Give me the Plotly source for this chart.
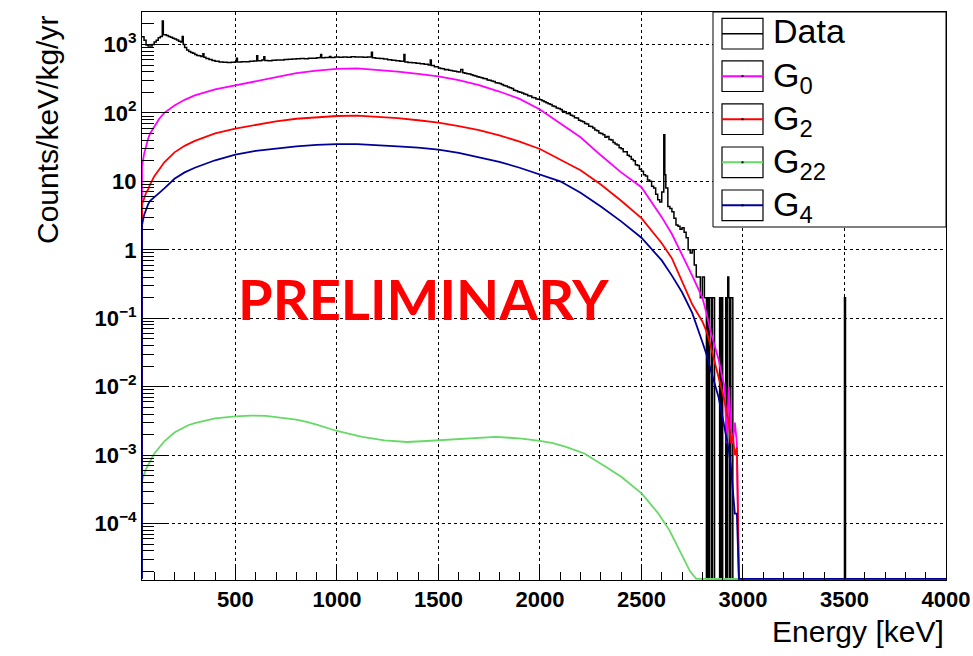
import math
import plotly.graph_objects as go

# ---------------- data ----------------
# Measured spectrum: left bin edges [keV] and contents [counts/keV/kg/yr]
DATA_E = [40, 50, 60, 70, 80, 90, 100, 110, 120, 130, 140, 145, 160, 170, 180, 190, 200, 210, 220, 230,
          238, 243, 250, 260, 270, 280, 290, 300, 310, 320, 330, 340, 345, 355, 370, 385, 400, 420, 440, 460,
          480, 500, 505, 510, 530, 550, 570, 590, 605, 610, 630, 640, 645,
          660, 680, 700, 720, 740, 760, 780, 800, 820, 840, 860, 880, 900, 915, 920, 925, 940, 960, 965, 970,
          990, 1010, 1030, 1050, 1070, 1090, 1110, 1130, 1150, 1170, 1175, 1190, 1210, 1230, 1250, 1270,
          1290, 1310, 1330, 1335, 1350, 1370, 1390, 1410, 1430, 1450, 1460, 1465, 1480,
          1500, 1510, 1520, 1530, 1540, 1550, 1560, 1570, 1580, 1590,
          1600, 1610, 1620, 1630, 1640, 1650, 1660, 1670, 1680, 1690,
          1700, 1710, 1720, 1730, 1740, 1750, 1760, 1770, 1780, 1790,
          1800, 1810, 1820, 1830, 1840, 1850, 1860, 1870, 1880, 1890,
          1900, 1910, 1920, 1930, 1940, 1950, 1960, 1970, 1980, 1990,
          2000, 2010, 2020, 2030, 2040, 2050, 2060, 2070, 2080, 2090,
          2100, 2110, 2120, 2130, 2140, 2150, 2160, 2170, 2180, 2190,
          2200, 2210, 2220, 2230, 2240, 2250, 2260, 2270, 2280, 2290,
          2300, 2310, 2320, 2330, 2340, 2350, 2360, 2370, 2380, 2390,
          2400, 2410, 2420, 2430, 2440, 2450, 2460, 2470, 2480, 2490,
          2500, 2510, 2520, 2530, 2540, 2550, 2560, 2570, 2580, 2590,
          2600, 2610, 2615, 2620, 2630, 2640, 2650, 2660, 2670, 2680, 2690,
          2700, 2710, 2720, 2730, 2740, 2750, 2760, 2770, 2780, 2790, 2800, 2810, 2820, 2825,
          2830, 2835, 2845, 2850, 2860, 2885, 2890, 2895, 2900, 2915, 2920, 2925, 2930, 2935, 2940, 2950, 3500,
          3505, 4000]
DATA_V = [1290, 1150, 980, 950, 950, 1000, 1080, 1150, 1250, 1300, 2200, 1380, 1350, 1300, 1270, 1230, 1200, 1160, 1110, 1080,
          1300, 1000, 900, 830, 790, 760, 740, 710, 690, 680, 665, 730, 650, 620, 600, 580, 565, 555, 548, 545,
          548, 560, 630, 555, 556, 560, 565, 570, 680, 575, 590, 660, 580,
          575, 588, 592, 590, 600, 606, 612, 615, 622, 618, 630, 628, 636, 642, 710, 640, 646, 650, 668, 644,
          652, 648, 655, 650, 658, 652, 656, 650, 652, 770, 640, 628, 620, 612, 596, 588,
          578, 566, 710, 552, 545, 538, 530, 520, 512, 500, 590, 492, 472,
          452, 445, 440, 428, 430, 420, 414, 408, 404, 398,
          395, 430, 385, 378, 372, 368, 360, 352, 346, 336,
          330, 326, 318, 314, 302, 300, 292, 286, 276, 272,
          268, 260, 250, 246, 238, 232, 226, 214, 210, 204,
          200, 195, 188, 186, 178, 176, 168, 166, 160, 158,
          156, 150, 145, 140, 136, 132, 126, 124, 118, 116,
          112, 106, 104, 98, 97, 92, 90, 85, 84, 78,
          76, 74, 70, 69, 64, 63, 60, 56, 55, 51,
          50, 48, 44, 45, 41, 40, 37, 35, 34, 31,
          30, 27, 27, 24, 23, 21, 20, 17.5, 17, 15,
          14, 12.5, 12, 10.5, 10, 8.5, 8, 6.5, 5.4, 5.0,
          7, 48, 12.5, 8, 4.3, 4.0, 3.6, 2.9, 2.3, 2.2, 2.0,
          2.1, 1.8, 1.5, 1.0, 0.9, 1.0, 0.6, 0.4, 0.4, 0.2, 0.4, 0.2, 0, 0.2,
          0, 0.2, 0, 0.2, 0, 0.2, 0, 0.2, 0, 0.2, 0, 0.4, 0.2, 0, 0.2, 0, 0.2,
          0, 0]

# Fit components G0, G2, G4 sampled at these energies [keV]
MODEL_E = [40, 50, 60, 70, 80, 100, 125, 150, 200, 250, 300, 400, 500, 600, 700, 800, 900, 1000, 1100,
           1200, 1300, 1400, 1500, 1600, 1700, 1800, 1900, 2000, 2100, 2200, 2300, 2400, 2500, 2600, 2650,
           2700, 2750, 2800, 2820, 2840, 2860, 2880, 2900, 2910, 2920, 2930, 2940, 2950, 2960, 2970, 2980, 4000]
G0 = [16.6, 25, 33, 42, 50, 63, 82, 100, 128, 155, 180, 220, 252, 290, 335, 380, 415, 438, 445,
      425, 400, 370, 340, 300, 255, 205, 160, 112, 70, 44, 24, 13.5, 8.2, 3.0, 1.7,
      0.85, 0.42, 0.2, 0.12, 0.065, 0.04, 0.025, 0.013, 0.01, 0.0015, 0.01, 0.0025, 0.0015, 0.003, 0.0015, 0, 0]
G2 = [4.6, 5.6, 6.8, 7.6, 9, 11.8, 15, 19, 26.5, 33, 39, 50, 59, 67, 75, 82, 87, 90, 91,
      88, 84, 78, 72, 64, 56, 47, 38, 29.7, 21, 14.5, 9, 5.2, 2.9, 1.25, 0.75,
      0.35, 0.16, 0.09, 0.065, 0.04, 0.024, 0.014, 0.008, 0.006, 0.004, 0.003, 0.0015, 0.002, 0.001, 0.0013, 0, 0]
G4 = [2.3, 3.2, 3.9, 4.6, 5.2, 5.8, 6.8, 7.9, 10.9, 13.5, 15.8, 20.3, 24.5, 27.8, 30, 32.3, 34, 35, 35,
      34, 32.5, 31, 29, 26, 22.5, 19.3, 15.8, 12.5, 10, 6.8, 4.3, 2.6, 1.5, 0.7, 0.42,
      0.24, 0.12, 0.045, 0.03, 0.018, 0.011, 0.007, 0.0035, 0.0025, 0.0018, 0.0012, 0.0007, 0.00035, 0.00014, 0.00014, 0, 0]
# Fit component G22
G22_E = [40, 60, 80, 100, 125, 150, 200, 267, 300, 400, 500, 577, 650, 723, 800, 851, 900, 1000, 1125,
         1234, 1344, 1420, 1500, 1600, 1700, 1782, 1850, 1909, 2000, 2064, 2128, 2219, 2328, 2402, 2502,
         2584, 2638, 2693, 2740, 2770, 4000]
G22 = [4.3e-4, 6.3e-4, 8.3e-4, 1.05e-3, 1.3e-3, 1.6e-3, 2.15e-3, 2.74e-3, 2.95e-3, 3.45e-3, 3.7e-3, 3.8e-3,
       3.75e-3, 3.55e-3, 3.3e-3, 3.06e-3, 2.8e-3, 2.26e-3, 1.85e-3, 1.65e-3, 1.56e-3, 1.6e-3, 1.65e-3,
       1.75e-3, 1.82e-3, 1.85e-3, 1.8e-3, 1.75e-3, 1.62e-3, 1.5e-3, 1.32e-3, 1.06e-3, 6.7e-4, 4.8e-4,
       2.75e-4, 1.4e-4, 8e-5, 3.7e-5, 2e-5, 0, 0]

X_TICKS = [500, 1000, 1500, 2000, 2500, 3000, 3500, 4000]
Y_TICKVALS = [1e-4, 1e-3, 1e-2, 1e-1, 1, 10, 100, 1000]
Y_TICKTEXT = ["10<sup>\u22124</sup>", "10<sup>\u22123</sup>", "10<sup>\u22122</sup>", "10<sup>\u22121</sup>",
              "1", "10", "10<sup>2</sup>", "10<sup>3</sup>"]
LEGEND_LABELS = ["Data", "G<sub>0</sub>", "G<sub>2</sub>", "G<sub>22</sub>", "G<sub>4</sub>"]
LEGEND_COLORS = ["black", "#ff00ff", "#ff0000", "#66d966", "#000099"]

# ---------------- layout constants ----------------
W, H = 973, 656
L, R, T, B = 142, 946, 12, 580
X_RANGE = [40, 4000]
Y_RANGE = [-4.822, 3.473]
YMIN = 10 ** Y_RANGE[0]


def px(x):
    return (x - L) / (R - L)


def py(y):
    return (B - y) / (B - T)


def floor(vals):
    # zero bins are drawn on the bottom edge of the frame (ROOT log-scale behaviour)
    return [v if v > 0 else YMIN * 1.04 for v in vals]


fig = go.Figure()
fig.add_trace(go.Scatter(x=DATA_E, y=floor(DATA_V), mode="lines",
                         line=dict(color="black", width=1.5, shape="hv"), showlegend=False))
for e, v, c in [(MODEL_E, G0, LEGEND_COLORS[1]), (MODEL_E, G2, LEGEND_COLORS[2]),
                (G22_E, G22, LEGEND_COLORS[3]), (MODEL_E, G4, LEGEND_COLORS[4])]:
    fig.add_trace(go.Scatter(x=[e[0]] + e, y=floor([0] + v), mode="lines",
                             line=dict(color=c, width=1.8), showlegend=False))

minor_y = [m * 10 ** d for d in range(-5, 4) for m in range(2, 10)
           if Y_RANGE[0] <= math.log10(m * 10 ** d) <= Y_RANGE[1]]

tickfont = dict(family="Liberation Sans", size=22, color="black", weight="bold")

fig.update_layout(
    template="none",
    width=W, height=H, margin=dict(l=L, r=W - R, t=T, b=H - B, pad=0, autoexpand=False),
    paper_bgcolor="white", plot_bgcolor="white", showlegend=False,
    xaxis=dict(range=X_RANGE, tickvals=X_TICKS, ticks="inside", ticklen=16, tickcolor="black",
               tickwidth=1, showgrid=True, gridcolor="black", griddash="dot", gridwidth=1,
               minor=dict(dtick=100, tick0=0, ticks="inside", ticklen=8, tickcolor="black", showgrid=False),
               showline=True, linecolor="black", linewidth=1, mirror=True, zeroline=False,
               tickfont=tickfont, automargin=False),
    yaxis=dict(type="log", range=Y_RANGE, tickvals=Y_TICKVALS, ticktext=Y_TICKTEXT, ticks="inside",
               ticklen=25, tickcolor="black", tickwidth=1, showgrid=True, gridcolor="black",
               griddash="dot", gridwidth=1, showline=True, linecolor="black", linewidth=1, mirror=True,
               zeroline=False, tickfont=tickfont, automargin=False),
    yaxis2=dict(type="log", range=Y_RANGE, overlaying="y", anchor="x", side="left", tickvals=minor_y,
                ticks="inside", ticklen=12, tickcolor="black", showticklabels=False, showgrid=False,
                showline=False, zeroline=False, automargin=False),
)
# invisible trace that keeps the minor-tick axis alive
fig.add_trace(go.Scatter(x=[None], y=[None], yaxis="y2", showlegend=False, hoverinfo="skip"))

ann = []
ann.append(dict(text="Counts/keV/kg/yr", x=px(48), y=py(130), xref="paper", yref="paper",
                textangle=-90, showarrow=False, xanchor="center", yanchor="middle",
                font=dict(family="Liberation Sans", size=30, color="black")))
ann.append(dict(text="Energy [keV]", x=1.0, y=py(631), xref="paper", yref="paper",
                showarrow=False, xanchor="right", yanchor="middle",
                font=dict(family="Liberation Sans", size=30, color="black")))
ann.append(dict(text="<b>PRELIMINARY</b>", x=px(423), y=py(298), xref="paper", yref="paper",
                showarrow=False, xanchor="center", yanchor="middle",
                font=dict(family="Lato", size=56, color="#ff0000")))

shapes = [dict(type="rect", xref="paper", yref="paper", x0=px(713), x1=1.0, y0=py(227), y1=1.0,
               line=dict(color="black", width=1), fillcolor="white", layer="above")]
row_c = [33.7, 76.2, 119.2, 162.3, 205.3]
for i, (lab, col) in enumerate(zip(LEGEND_LABELS, LEGEND_COLORS)):
    yc = row_c[i]
    shapes.append(dict(type="rect", xref="paper", yref="paper", x0=px(722), x1=px(763),
                       y0=py(yc + 15.3), y1=py(yc - 15.3), line=dict(color="black", width=1.2),
                       fillcolor="white", layer="above"))
    shapes.append(dict(type="line", xref="paper", yref="paper", x0=px(722), x1=px(763),
                       y0=py(yc), y1=py(yc), line=dict(color=col, width=1.5 if i == 0 else 2), layer="above"))
    if i > 0:
        shapes.append(dict(type="rect", xref="paper", yref="paper", x0=px(741.5), x1=px(743.5),
                           y0=py(yc + 1), y1=py(yc - 1), line=dict(width=0), fillcolor="black",
                           layer="above"))
    ann.append(dict(text=lab, x=px(771), y=py(yc - 3 if i == 0 else yc + 1), xref="paper", yref="paper",
                    showarrow=False, xanchor="left", yanchor="middle",
                    font=dict(family="Liberation Sans", size=34, color="black")))

fig.update_layout(annotations=ann, shapes=shapes)
fig.write_html("out.html")
